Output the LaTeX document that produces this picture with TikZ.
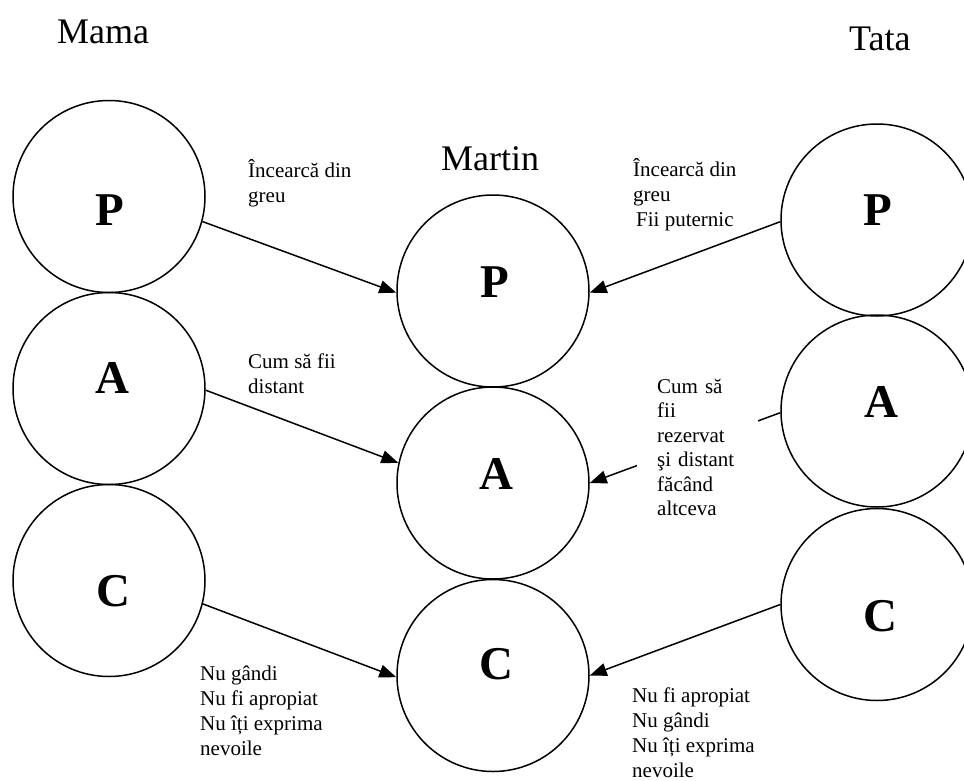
\documentclass[tikz,border=0pt]{standalone}
\usepackage{fontspec}
\setmainfont{Liberation Serif}
\usetikzlibrary{arrows.meta}
\begin{document}
\begin{tikzpicture}[x=1pt,y=-1pt,
  circ/.style={circle,draw,line width=1.5pt,minimum size=192pt,inner sep=0pt},
  letter/.style={font=\fontsize{47}{56}\selectfont\bfseries,inner sep=0pt,anchor=base},
  title/.style={font=\fontsize{36}{42}\selectfont,inner sep=0pt,anchor=base west},
  lbl/.style={font=\fontsize{21}{25}\selectfont,inner sep=0pt,anchor=base west,align=left},
  arr/.style={line width=1.5pt,-{Triangle[length=17pt,width=13pt]}}]
\useasboundingbox (0,0) rectangle (964,780);
\clip (0,0) rectangle (964,780);
% circles
\node[circ] (lp) at (109,196.5) {};
\node[circ] (la) at (109,388.5) {};
\node[circ] (lc) at (109,580.5) {};
\node[circ] (mp) at (493,291) {};
\node[circ] (ma) at (493,483) {};
\node[circ] (mc) at (493,675.5) {};
\node[circ] (rp) at (877,220) {};
\node[circ] (ra) at (877,411) {};
\node[circ] (rc) at (877,604.5) {};
% letters
\node[letter] (lpt) at (110,225) {P};
\node[letter] (lat) at (112.5,393) {A};
\node[letter] (lct) at (113,606) {C};
\node[letter] (mpt) at (494.5,297) {P};
\node[letter] (mat) at (496,489) {A};
\node[letter] (mct) at (496.5,679) {C};
\node[letter] (rpt) at (878,225) {P};
\node[letter] (rat) at (881,417) {A};
\node[letter] (rct) at (880.5,631) {C};
% titles
\node[title] (mama) at (57,43) {Mama};
\node[title] (tata) at (849,50) {Tata};
\node[title] (martin) at (441,170) {Martin};
% arrows
\draw[arr] (lp.-15) -- (mp.181);
\draw[arr] (rp.181) -- (mp.-1);
\draw[arr] (la.-1) -- (ma.168);
\draw[arr] (ra.181) -- (ma.0);
\draw[arr] (lc.-14) -- (mc.181);
\draw[arr] (rc.180) -- (mc.0);
% labels (anchor = baseline of the last line)
\node[lbl] (l1) at (248,202) {Încearcă din\\greu};
\node[lbl] (l2) at (633,226) {Încearcă din\\greu\\\hspace*{3pt}Fii puternic};
\node[lbl] (l3) at (248,393) {Cum să fii\\distant};
% text-width node: anchor = baseline of the first line
\node[lbl,font=\fontsize{21}{24.5}\selectfont,fill=white,text width=81pt,inner xsep=20pt,inner ysep=2pt] (l4) at (637,393) {Cum să\\fii\\rezervat\\şi distant\\făcând\\altceva};
\node[lbl] (l5) at (200,755) {Nu gândi\\Nu fi apropiat\\Nu îți exprima\\nevoile};
\node[lbl] (l6) at (632,777) {Nu fi apropiat\\Nu gândi\\Nu îți exprima\\nevoile};
\end{tikzpicture}
\end{document}
